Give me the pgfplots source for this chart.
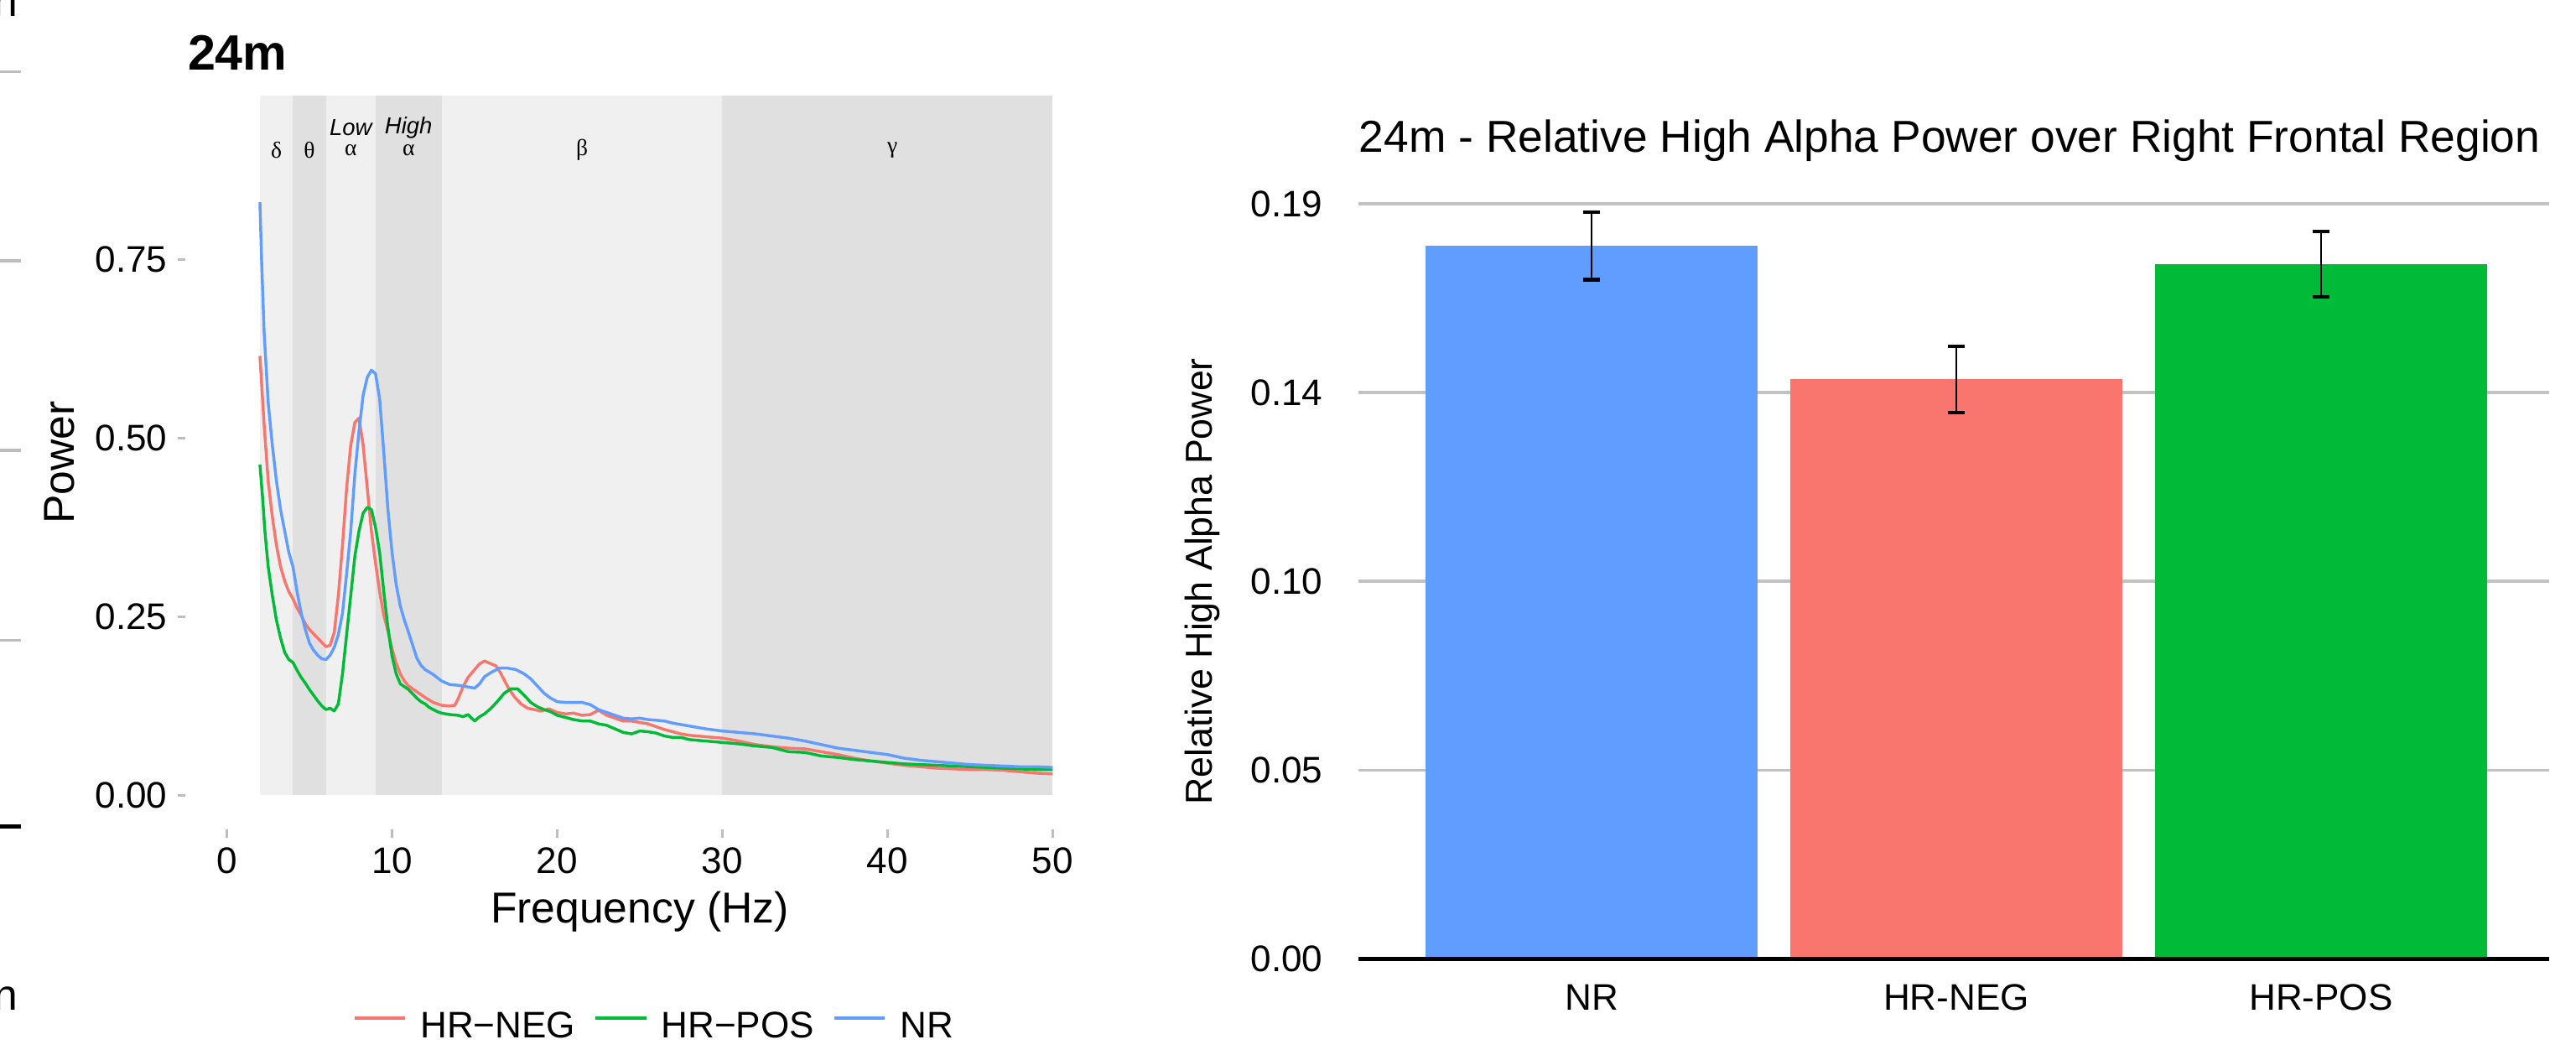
\documentclass[border=0pt]{standalone}
\usepackage{fontspec}
\setmainfont{Liberation Sans}
\newfontfamily\greekfont{Liberation Serif}
\usepackage{pgfplots}
\pgfplotsset{compat=1.18}

\definecolor{cneg}{HTML}{F8766D}
\definecolor{cpos}{HTML}{00BA38}
\definecolor{cnr}{HTML}{619CFF}
\definecolor{bandlight}{HTML}{F0F0F0}
\definecolor{banddark}{HTML}{E0E0E0}
\definecolor{gridgrey}{HTML}{C2C2C2}
\definecolor{tickgrey}{HTML}{BDBDBD}

\newcommand{\ticksize}{\fontsize{12.8}{15}\selectfont}
\newcommand{\bandsize}{\fontsize{8}{9}\selectfont}

\begin{document}
\begin{tikzpicture}[x=0.02cm,y=0.02cm]
\path[use as bounding box] (0,0) rectangle (1568,642);

% fragments of the neighbouring figure at the left edge
\draw[tickgrey, line width=1pt] (0,598.4) -- (12.7,598.4);
\draw[tickgrey, line width=1pt] (0,483.2) -- (12.7,483.2);
\draw[tickgrey, line width=1pt] (0,368) -- (12.7,368);
\draw[tickgrey, line width=1pt] (0,252.4) -- (12.7,252.4);
\draw[black, line width=1.3pt] (0,139) -- (13,139);
\node[anchor=base west, inner sep=0pt, font=\fontsize{15}{18}\selectfont] at (-4,27) {n};
\node[anchor=base west, inner sep=0pt, font=\fontsize{15}{18}\selectfont] at (-4,632) {n};

% ---------------- left: spectra ----------------
\node[anchor=base west, inner sep=0pt, font=\fontsize{17.2}{20}\selectfont\bfseries] at (114,599.5) {24m};

\begin{axis}[
    at={(2.26cm,2.742cm)}, anchor=south west,
    scale only axis, width=11.06cm, height=8.934cm,
    xmin=-2.5, xmax=52.5, ymin=-0.048, ymax=0.979,
    axis line style={draw=none},
    xtick={0,10,20,30,40,50}, xticklabels={0,10,20,30,40,50},
    ytick={0,0.25,0.5,0.75}, yticklabels={0.00,0.25,0.50,0.75},
    xtick pos=bottom, ytick pos=left,
    tick align=outside, major tick length=0.1cm,
    tick style={tickgrey, line width=0.9pt},
    ticklabel style={font=\ticksize},
    /pgf/number format/assume math mode=true,
    xlabel={Frequency (Hz)}, ylabel={Power},
    label style={font=\fontsize{15}{18}\selectfont},
    xlabel style={at={(axis description cs:0.5,-0.112)}, anchor=center},
    ylabel style={at={(axis description cs:-0.139,0.5)}, anchor=center},
    clip=false,
    legend columns=3,
    legend style={at={(axis description cs:0.5145,-0.269)}, anchor=center,
        draw=none, fill=none, font=\ticksize,
        nodes={inner sep=0pt},
        /tikz/every odd column/.append style={column sep=0.16cm},
        /tikz/every even column/.append style={column sep=0.22cm}},
    legend image code/.code={\draw[#1, line width=1.3pt] (0cm,0.11cm) -- (0.62cm,0.11cm);},
]
% frequency bands
\fill[bandlight] (axis cs:2,0) rectangle (axis cs:4,0.979);
\fill[banddark] (axis cs:4,0) rectangle (axis cs:6,0.979);
\fill[bandlight] (axis cs:6,0) rectangle (axis cs:9,0.979);
\fill[banddark] (axis cs:9,0) rectangle (axis cs:13,0.979);
\fill[bandlight] (axis cs:13,0) rectangle (axis cs:30,0.979);
\fill[banddark] (axis cs:30,0) rectangle (axis cs:50,0.979);
\node[font=\bandsize\greekfont] at (axis cs:3,0.903) {δ};
\node[font=\bandsize\greekfont] at (axis cs:5,0.903) {θ};
\node[font=\bandsize\greekfont] at (axis cs:7.5,0.903) {α};
\node[font=\bandsize\greekfont] at (axis cs:11,0.903) {α};
\node[font=\bandsize\greekfont] at (axis cs:21.5,0.903) {β};
\node[font=\bandsize\greekfont] at (axis cs:40.3,0.903) {γ};
\node[font=\bandsize\itshape] at (axis cs:7.5,0.9345) {Low};
\node[font=\bandsize\itshape] at (axis cs:11,0.9345) {High};

\addplot[cneg, line width=1pt, line join=round] coordinates {
(2,0.615) (2.25,0.52) (2.5,0.44) (2.75,0.39) (3,0.35) (3.25,0.32) (3.5,0.30) (3.75,0.285)
(4,0.275) (4.25,0.262) (4.5,0.252) (4.75,0.24) (5,0.232) (5.25,0.226) (5.5,0.22) (5.75,0.214)
(6,0.208) (6.25,0.21) (6.5,0.228) (6.75,0.28) (7,0.35) (7.25,0.43) (7.5,0.49) (7.75,0.522)
(8,0.528) (8.25,0.49) (8.5,0.43) (8.75,0.37) (9,0.325) (9.25,0.285) (9.5,0.252) (9.75,0.23)
(10,0.205) (10.25,0.185) (10.5,0.17) (10.75,0.16) (11,0.153) (11.5,0.145) (12,0.137) (12.5,0.13)
(13,0.126) (13.5,0.125) (13.8,0.126) (14,0.135) (14.3,0.152) (14.6,0.165) (15,0.176) (15.3,0.184)
(15.6,0.188) (16,0.184) (16.3,0.181) (16.6,0.17) (17,0.152) (17.4,0.138) (17.8,0.128) (18.2,0.122)
(18.6,0.12) (19,0.118) (19.5,0.121) (20,0.116) (20.5,0.114) (21,0.115) (21.5,0.112) (22,0.113)
(22.5,0.119) (23,0.112) (23.5,0.108) (24,0.104) (24.5,0.104) (25,0.102) (25.5,0.1) (26,0.096)
(26.5,0.092) (27,0.089) (27.5,0.086) (28,0.084) (28.5,0.083) (29,0.082) (30,0.08) (31,0.076)
(32,0.071) (33,0.068) (34,0.066) (35,0.065) (36,0.061) (37,0.057) (38,0.052) (39,0.048)
(40,0.045) (41,0.042) (42,0.04) (43,0.038) (44,0.037) (45,0.036) (46,0.036) (47,0.035)
(48,0.033) (49,0.031) (50,0.03)
};
\addlegendentry{HR−NEG}
\addplot[cpos, line width=1pt, line join=round] coordinates {
(2,0.463) (2.15,0.42) (2.3,0.37) (2.5,0.32) (2.75,0.28) (3,0.245) (3.25,0.22) (3.5,0.2)
(3.75,0.19) (4,0.186) (4.25,0.175) (4.5,0.165) (4.75,0.157) (5,0.148) (5.25,0.14) (5.5,0.132)
(5.75,0.125) (6,0.12) (6.25,0.122) (6.5,0.118) (6.75,0.128) (7,0.17) (7.25,0.225) (7.5,0.28)
(7.75,0.335) (8,0.37) (8.25,0.395) (8.5,0.403) (8.75,0.4) (9,0.375) (9.25,0.34) (9.5,0.285)
(9.75,0.235) (10,0.195) (10.25,0.17) (10.5,0.156) (10.75,0.152) (11,0.148) (11.25,0.142) (11.5,0.136)
(11.75,0.131) (12,0.128) (12.25,0.123) (12.5,0.12) (12.75,0.117) (13,0.115) (13.5,0.113) (14,0.112)
(14.3,0.11) (14.6,0.113) (15,0.104) (15.3,0.11) (15.6,0.114) (16,0.122) (16.4,0.132) (16.8,0.143)
(17.2,0.149) (17.6,0.149) (18,0.14) (18.4,0.13) (18.8,0.124) (19.2,0.12) (19.6,0.117) (20,0.112)
(20.5,0.109) (21,0.106) (21.5,0.104) (22,0.104) (22.5,0.1) (23,0.098) (23.5,0.093) (24,0.088)
(24.5,0.086) (25,0.09) (25.5,0.089) (26,0.087) (26.5,0.083) (27,0.081) (27.5,0.081) (28,0.078)
(29,0.076) (30,0.074) (31,0.072) (32,0.069) (33,0.067) (34,0.061) (35,0.06) (36,0.055)
(37,0.053) (38,0.05) (39,0.048) (40,0.046) (41,0.044) (42,0.043) (43,0.042) (44,0.041)
(45,0.04) (46,0.039) (47,0.038) (48,0.037) (49,0.036) (50,0.036)
};
\addlegendentry{HR−POS}
\addplot[cnr, line width=1pt, line join=round] coordinates {
(2,0.83) (2.1,0.75) (2.25,0.65) (2.5,0.55) (2.75,0.49) (3,0.44) (3.25,0.40) (3.5,0.37)
(3.75,0.34) (4,0.32) (4.25,0.285) (4.5,0.255) (4.75,0.232) (5,0.213) (5.25,0.203) (5.5,0.196)
(5.75,0.191) (6,0.19) (6.25,0.196) (6.5,0.207) (6.75,0.225) (7,0.255) (7.25,0.31) (7.5,0.37)
(7.75,0.45) (8,0.51) (8.25,0.56) (8.5,0.585) (8.75,0.595) (9,0.59) (9.25,0.555) (9.5,0.48)
(9.75,0.40) (10,0.34) (10.25,0.295) (10.5,0.265) (10.75,0.245) (11,0.228) (11.25,0.21) (11.5,0.192)
(11.75,0.182) (12,0.176) (12.5,0.169) (13,0.16) (13.5,0.155) (14,0.154) (14.5,0.152) (15,0.15)
(15.3,0.156) (15.6,0.166) (16,0.172) (16.5,0.178) (17,0.178) (17.5,0.176) (18,0.17) (18.4,0.163)
(18.8,0.153) (19.2,0.143) (19.6,0.136) (20,0.131) (20.5,0.13) (21,0.13) (21.5,0.13) (22,0.127)
(22.5,0.12) (23,0.116) (23.5,0.112) (24,0.108) (24.5,0.107) (25,0.108) (25.5,0.106) (26,0.105)
(26.5,0.104) (27,0.101) (27.5,0.099) (28,0.097) (28.5,0.095) (29,0.093) (30,0.09) (31,0.088)
(32,0.086) (33,0.083) (34,0.08) (35,0.076) (36,0.071) (37,0.066) (38,0.063) (39,0.06)
(40,0.057) (41,0.052) (42,0.049) (43,0.047) (44,0.045) (45,0.043) (46,0.042) (47,0.041)
(48,0.04) (49,0.04) (50,0.039)
};
\addlegendentry{NR}
\end{axis}

% ---------------- right: bar chart ----------------
\node[anchor=base west, inner sep=0pt, font=\fontsize{15.5}{18}\selectfont] at (827,549.3)
    {24m - Relative High Alpha Power over Right Frontal Region};

\begin{axis}[
    at={(16.54cm,1.168cm)}, anchor=south west,
    scale only axis, width=14.5cm, height=9.194cm,
    xmin=-0.64, xmax=2.626, ymin=0, ymax=0.19,
    axis line style={draw=none},
    xtick={0,1,2}, xticklabels={NR,HR-NEG,HR-POS},
    ytick={0,0.0475,0.095,0.1425,0.19}, yticklabels={0.00,0.05,0.10,0.14,0.19},
    major tick length=0pt,
    ymajorgrids, grid style={gridgrey, line width=1pt},
    ticklabel style={font=\ticksize},
    /pgf/number format/assume math mode=true,
    xticklabel style={yshift=-0.19cm},
    yticklabel style={xshift=-0.31cm},
    ylabel={Relative High Alpha Power},
    ylabel style={font=\fontsize{13}{16}\selectfont, at={(axis description cs:-0.131,0.5)}, anchor=center},
    clip=false,
]
\addplot[ybar, bar width=0.91, bar shift=0pt, fill=cnr, draw=none,
    error bars/.cd, y dir=both, y explicit,
    error bar style={black, line width=0.7pt},
    error mark options={rotate=90, black, mark size=2.85pt, line width=1.2pt}]
    coordinates {(0,0.1794) +- (0,0.0085)};
\addplot[ybar, bar width=0.91, bar shift=0pt, fill=cneg, draw=none,
    error bars/.cd, y dir=both, y explicit,
    error bar style={black, line width=0.7pt},
    error mark options={rotate=90, black, mark size=2.85pt, line width=1.2pt}]
    coordinates {(1,0.1458) +- (0,0.0083)};
\addplot[ybar, bar width=0.91, bar shift=0pt, fill=cpos, draw=none,
    error bars/.cd, y dir=both, y explicit,
    error bar style={black, line width=0.7pt},
    error mark options={rotate=90, black, mark size=2.85pt, line width=1.2pt}]
    coordinates {(2,0.1748) +- (0,0.0083)};
\draw[black, line width=1.3pt] (axis cs:-0.64,0) -- (axis cs:2.626,0);
\end{axis}
\end{tikzpicture}
\end{document}
